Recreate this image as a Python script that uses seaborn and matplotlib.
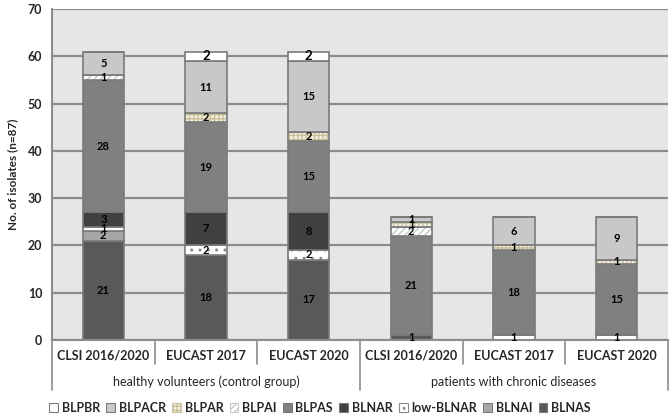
import numpy as np
import pandas as pd
import matplotlib
matplotlib.use("Agg")
import matplotlib.pyplot as plt
import matplotlib.transforms as mtransforms
from matplotlib.patches import Patch
import seaborn as sns

# x-axis: two groups of three breakpoint standards
categories = ["CLSI 2016/2020", "EUCAST 2017", "EUCAST 2020",
              "CLSI 2016/2020", "EUCAST 2017", "EUCAST 2020"]
groups = ["healthy volunteers (control group)", "patients with chronic diseases"]

# counts per phenotype, stacked bottom -> top
blnas = [21, 18, 17, 1, 0, 0]
blnai = [2, 0, 0, 0, 0, 0]
low_blnar = [1, 2, 2, 0, 1, 1]
blnar = [3, 7, 8, 0, 0, 0]
blpas = [28, 19, 15, 21, 18, 15]
blpai = [1, 0, 0, 2, 0, 0]
blpar = [0, 2, 2, 1, 1, 1]
blpacr = [5, 11, 15, 1, 6, 9]
blpbr = [0, 2, 2, 0, 0, 0]

layers = [
    ("BLNAS", blnas), ("BLNAI", blnai), ("low-BLNAR", low_blnar),
    ("BLNAR", blnar), ("BLPAS", blpas), ("BLPAI", blpai),
    ("BLPAR", blpar), ("BLPACR", blpacr), ("BLPBR", blpbr),
]

# face colour, hatch, hatch colour
styles = {
    "BLNAS": ("#595959", None, None),
    "BLNAI": ("#a6a6a6", None, None),
    "low-BLNAR": ("white", "..", "#8a8a8a"),
    "BLNAR": ("#404040", None, None),
    "BLPAS": ("#808080", None, None),
    "BLPAI": ("white", "/////", "#c8c8c8"),
    "BLPAR": ("#f4f1e6", "++++", "#c9bf98"),
    "BLPACR": ("#c8c8c8", None, None),
    "BLPBR": ("white", None, None),
}

sns.set_style("white")
plt.rcParams['font.family'] = ['Lato', 'DejaVu Sans']
plt.rcParams['font.weight'] = 'bold'

keys = [f"c{i}" for i in range(len(categories))]
edge = "#7a7a7a"

fig = plt.figure(figsize=(6.7, 4.16), dpi=100)
ax = fig.add_axes([52 / 670, 76 / 416, 616 / 670, 331 / 416])
ax.set_facecolor("#e6e6e6")

bottom = np.zeros(len(keys))
for name, vals in layers:
    vals = np.array(vals, dtype=float)
    face, hatch, hcol = styles[name]
    # fill (with hatch) first, then an outline on top
    sns.barplot(x=keys, y=vals, order=keys, bottom=bottom, width=0.4,
                errorbar=None, saturation=1, color=face, ax=ax)
    for p in ax.containers[-1]:
        p.set_facecolor(face)
        p.set_linewidth(0)
        if hatch:
            p.set_hatch(hatch)
            p.set_edgecolor(hcol)
    sns.barplot(x=keys, y=vals, order=keys, bottom=bottom, width=0.4,
                errorbar=None, saturation=1, color=face, ax=ax)
    for p in ax.containers[-1]:
        p.set_facecolor("none")
        p.set_edgecolor(edge)
        p.set_linewidth(1.2)
    labels = [str(int(v)) if v > 0 else "" for v in vals]
    ax.bar_label(ax.containers[-1], labels=labels, label_type="center",
                 fontsize=9.5 if name == "BLPBR" else 8, fontweight="bold", color="black")
    bottom += vals

ax.set_ylim(0, 70)
ax.set_xlim(-0.5, 5.5)
ax.set_yticks(range(0, 71, 10))
ax.yaxis.grid(True, color="#8c8c8c", linewidth=1.6)
ax.set_axisbelow(True)
for s in ["top", "right"]:
    ax.spines[s].set_visible(False)
ax.spines["left"].set_color("#8c8c8c")
ax.spines["left"].set_linewidth(1.5)
ax.spines["bottom"].set_color("#8c8c8c")
ax.spines["bottom"].set_linewidth(1.5)
ax.tick_params(axis="y", length=4, width=1.2, color="#8c8c8c", labelsize=9, pad=3)
ax.tick_params(axis="x", length=0, labelbottom=False)
for t in ax.get_yticklabels():
    t.set_fontweight("bold")
ax.set_xlabel("")
ax.set_ylabel("No. of isolates (n=87)", fontsize=8.5, fontweight="bold", labelpad=7)

# two-level category axis
trans = mtransforms.blended_transform_factory(ax.transData, ax.transAxes)
for i, c in enumerate(categories):
    ax.text(i, -0.048, c, transform=trans, ha="center", va="center",
            fontsize=9, fontweight="bold")
for j, g in enumerate(groups):
    ax.text(3 * j + 1, -0.127, g, transform=trans, ha="center", va="center",
            fontsize=9, fontweight="normal")
for x in [0.5, 1.5, 3.5, 4.5]:
    ax.plot([x, x], [0, -0.0725], transform=trans, color="#8c8c8c", lw=1.2, clip_on=False)
for x in [-0.5, 2.5, 5.5]:
    ax.plot([x, x], [0, -0.151], transform=trans, color="#8c8c8c", lw=1.2, clip_on=False)

handles = []
for name, _ in layers[::-1]:
    face, hatch, hcol = styles[name]
    handles.append(Patch(facecolor=face, edgecolor=hcol if hatch else edge,
                         hatch=hatch, linewidth=0.8, label=name))
fig.legend(handles=handles, loc="center left", bbox_to_anchor=(38 / 670, 1 - 408 / 416),
           ncol=9, frameon=False, handlelength=0.7, handleheight=0.7,
           handletextpad=0.3, columnspacing=0.5, prop={"size": 9, "weight": "bold"})

fig.savefig("out.png", dpi=100)
